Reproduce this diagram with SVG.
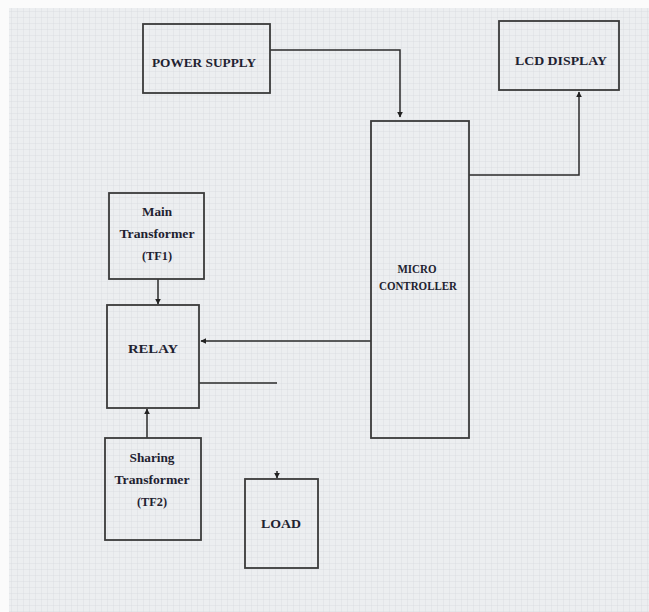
<svg xmlns="http://www.w3.org/2000/svg" width="649" height="612" viewBox="0 0 649 612">
<defs>
<pattern id="grid" width="6" height="6" patternUnits="userSpaceOnUse">
<path d="M6 0V6M0 6H6" stroke="#d6d9dd" stroke-width="0.7" fill="none"/>
</pattern>
<marker id="arr" viewBox="0 0 10 10" refX="9" refY="5" markerWidth="4" markerHeight="4" orient="auto">
<path d="M0 0L10 5L0 10z" fill="#222"/>
</marker>
<style>
.box{fill:none;stroke:#3a3a3a;stroke-width:1.8}
.ln{fill:none;stroke:#2a2a2a;stroke-width:1.5}
.t{font-family:"Liberation Serif",serif;font-weight:bold;font-size:13px;fill:#1e2230;text-anchor:middle}
</style>
</defs>
<rect width="649" height="612" fill="#fbfbfb"/>
<rect x="9" y="8" width="640" height="604" fill="#eceef0"/>
<rect x="9" y="8" width="640" height="604" fill="url(#grid)"/>
<g id="connectors">
<path class="ln" d="M270 50H400V117" marker-end="url(#arr)"/>
<path class="ln" d="M469 175H579V92" marker-end="url(#arr)"/>
<path class="ln" d="M158 279V304" marker-end="url(#arr)"/>
<path class="ln" d="M371 341H201" marker-end="url(#arr)"/>
<path class="ln" d="M147 438V409" marker-end="url(#arr)"/>
<path class="ln" d="M199 383H277"/>
<path class="ln" d="M277 471V478" marker-end="url(#arr)"/>
</g>
<g id="power-supply">
<rect class="box" x="143" y="24" width="127" height="69"/>
<text class="t" x="204" y="67" textLength="104" lengthAdjust="spacingAndGlyphs">POWER SUPPLY</text>
</g>
<g id="lcd-display">
<rect class="box" x="499" y="21" width="120" height="69"/>
<text class="t" x="561" y="65" textLength="92" lengthAdjust="spacingAndGlyphs">LCD DISPLAY</text>
</g>
<g id="micro-controller">
<rect class="box" x="371" y="121" width="98" height="317"/>
<text class="t" x="417" y="273" font-size="11" textLength="39" lengthAdjust="spacingAndGlyphs">MICRO</text>
<text class="t" x="418" y="290" font-size="11" textLength="78" lengthAdjust="spacingAndGlyphs">CONTROLLER</text>
</g>
<g id="main-transformer">
<rect class="box" x="109" y="193" width="95" height="86"/>
<text class="t" x="157" y="216" textLength="30" lengthAdjust="spacingAndGlyphs">Main</text>
<text class="t" x="157" y="238" textLength="75" lengthAdjust="spacingAndGlyphs">Transformer</text>
<text class="t" x="157" y="260" textLength="30" lengthAdjust="spacingAndGlyphs">(TF1)</text>
</g>
<g id="relay">
<rect class="box" x="107" y="305" width="92" height="103"/>
<text class="t" x="153" y="353" textLength="50" lengthAdjust="spacingAndGlyphs">RELAY</text>
</g>
<g id="sharing-transformer">
<rect class="box" x="105" y="438" width="96" height="102"/>
<text class="t" x="152" y="462" textLength="45" lengthAdjust="spacingAndGlyphs">Sharing</text>
<text class="t" x="152" y="484" textLength="75" lengthAdjust="spacingAndGlyphs">Transformer</text>
<text class="t" x="152" y="506" textLength="30" lengthAdjust="spacingAndGlyphs">(TF2)</text>
</g>
<g id="load">
<rect class="box" x="245" y="479" width="73" height="89"/>
<text class="t" x="281" y="528" textLength="40" lengthAdjust="spacingAndGlyphs">LOAD</text>
</g>
</svg>
